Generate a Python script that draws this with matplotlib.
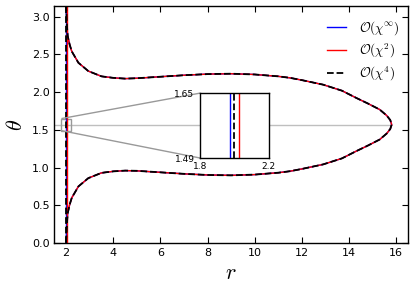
import numpy as np
import matplotlib
matplotlib.use('Agg')
import matplotlib.pyplot as plt
from mpl_toolkits.axes_grid1.inset_locator import mark_inset

plt.rcParams['mathtext.fontset'] = 'cm'
plt.rcParams['xtick.direction'] = 'in'
plt.rcParams['ytick.direction'] = 'in'
plt.rcParams['xtick.top'] = True
plt.rcParams['ytick.right'] = True

# horizon radius for each approximation
r_hor = {'inf': 1.976, 'chi2': 2.026, 'chi4': 1.999}

# outer surface, lower branch (theta < pi/2), from r=2 outwards
r_low = [2.00, 2.02, 2.04, 2.07, 2.15, 2.24, 2.52, 2.94, 3.50, 4.00, 4.50, 5.00, 6.00,
         7.00, 8.00, 9.00, 10.0, 11.0, 11.5, 12.0, 12.9, 13.7, 14.3, 14.8, 15.3, 15.6,
         15.75, 15.81]
th_low = [0.01, 0.14, 0.29, 0.40, 0.51, 0.60, 0.75, 0.86, 0.93, 0.95, 0.96, 0.957, 0.937,
          0.917, 0.902, 0.897, 0.907, 0.932, 0.952, 0.982, 1.042, 1.122, 1.217, 1.292,
          1.372, 1.452, 1.512, 1.571]
# upper branch, tip back to r=2
r_up = [15.75, 15.6, 15.3, 14.8, 14.3, 13.7, 12.9, 12.0, 11.5, 11.0, 10.0, 9.00, 8.00,
        7.00, 6.00, 5.00, 4.50, 4.00, 3.50, 2.94, 2.52, 2.24, 2.15, 2.07, 2.04, 2.02, 2.00]
th_up = [1.630, 1.690, 1.770, 1.850, 1.925, 2.020, 2.100, 2.160, 2.190, 2.210, 2.235,
         2.245, 2.240, 2.225, 2.205, 2.185, 2.180, 2.190, 2.210, 2.280, 2.390, 2.540,
         2.630, 2.740, 2.850, 3.000, 3.130]

# O(chi^2) surface ends where it meets its own horizon
r_red = [2.026] + r_low[3:] + r_up[:-3] + [2.026]
th_red = [0.39] + th_low[3:] + th_up[:-3] + [2.75]

r_full = r_low + r_up
th_full = th_low + th_up

fig = plt.figure(figsize=(4.15, 2.91), dpi=100)
ax = fig.add_axes([0.131, 0.165, 0.852, 0.814])

ax.hlines(np.pi / 2, 1.5, max(r_full), color='0.75', lw=1, zorder=1)

ax.plot([r_hor['inf']] * 2, [0, np.pi], color='b', lw=1.0)
ax.plot(r_full, th_full, color='b', lw=1.0, label=r'$\mathcal{O}(\chi^\infty)$')
ax.plot([r_hor['chi2']] * 2, [0, np.pi], color='r', lw=1.0)
ax.plot(r_red, th_red, color='r', lw=1.0, label=r'$\mathcal{O}(\chi^2)$')
ax.plot([r_hor['chi4']] * 2, [0, np.pi], color='k', lw=1.3, ls='--')
ax.plot(r_full, th_full, color='k', lw=1.3, ls='--', label=r'$\mathcal{O}(\chi^4)$')

ax.set_xlim(1.5, 16.5)
ax.set_ylim(0, np.pi)
ax.set_xticks([2, 4, 6, 8, 10, 12, 14, 16])
ax.set_yticks([0, 0.5, 1.0, 1.5, 2.0, 2.5, 3.0])
ax.tick_params(labelsize=8, length=4)
for s in ax.spines.values():
    s.set_linewidth(1.0)
ax.set_xlabel('$r$', fontsize=16)
ax.set_ylabel(r'$\theta$', fontsize=16)
ax.legend(loc='upper right', bbox_to_anchor=(1.015, 1.0), frameon=False, fontsize=9.5,
          handlelength=1.45, handletextpad=1.0, labelspacing=0.35, borderaxespad=0.6)

# zoom around the horizon at the equator
axin = fig.add_axes([0.482, 0.457, 0.166, 0.223])
axin.plot([r_hor['inf']] * 2, [0, np.pi], color='b', lw=1.0)
axin.plot([r_hor['chi2']] * 2, [0, np.pi], color='r', lw=1.0)
axin.plot([r_hor['chi4']] * 2, [0, np.pi], color='k', lw=1.3, ls='--')
axin.set_xlim(1.8, 2.2)
axin.set_ylim(1.49, 1.65)
axin.set_xticks([1.8, 2.2])
axin.set_yticks([1.49, 1.65])
axin.set_xticklabels(['1.8', '2.2'])
axin.set_yticklabels(['1.49', '1.65'])
axin.tick_params(axis='x', labelsize=6.5, length=0, pad=3)
axin.tick_params(axis='y', labelsize=6.5, length=0, pad=4)
for s in axin.spines.values():
    s.set_linewidth(1.0)
mark_inset(ax, axin, loc1=2, loc2=3, fc='none', ec='0.6', lw=1)

fig.savefig('out.png', dpi=100)
